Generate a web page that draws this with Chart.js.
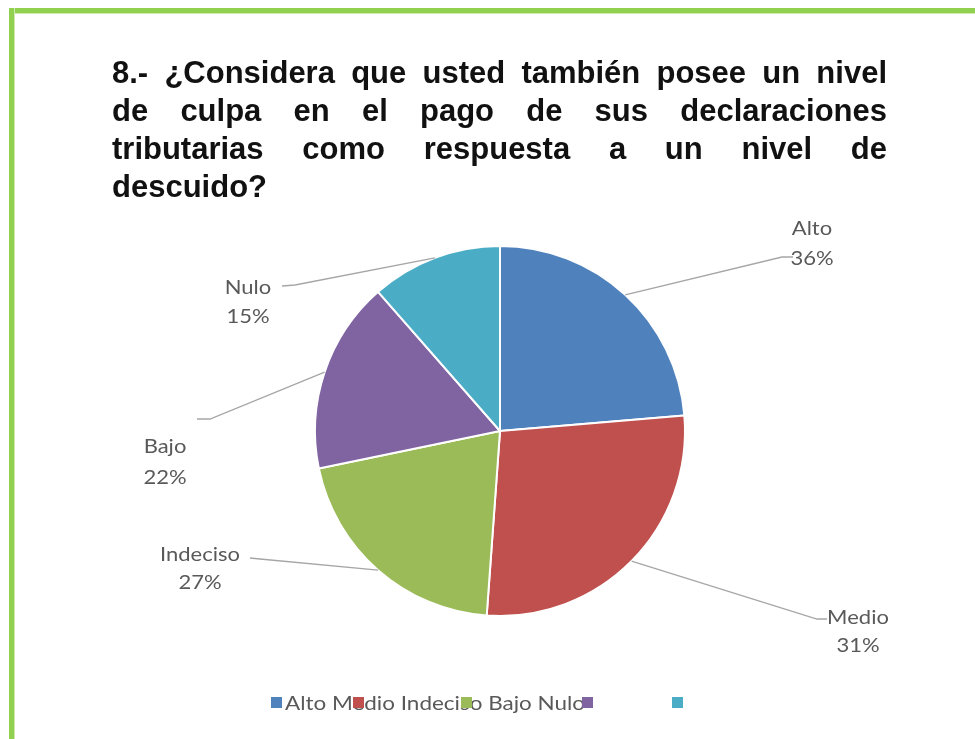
<!DOCTYPE html>
<html lang="es">
<head>
<meta charset="UTF-8">
<title>Nivel de culpa</title>
<style>
    body { margin: 0; background: #fff; }
    #wrap { position: relative; width: 975px; height: 739px; overflow: hidden; background: #fff; }
    #topBar { position: absolute; left: 9px; top: 8px; right: 0; height: 5px; background: #92D050; border-bottom: 1px solid #CFEAB0; }
    #leftBar { position: absolute; left: 9px; top: 8px; width: 5px; bottom: 0; background: #92D050; border-right: 1px solid #CFEAB0; }
    #title { position: absolute; left: 112px; top: 54px; width: 775px; font: bold 31px "Liberation Sans Narrow", "Arial Narrow", "Liberation Sans", sans-serif; font-stretch: condensed; line-height: 38px; color: #111; }
    #title div { text-align: justify; text-align-last: justify; }
    #title div.last { text-align-last: left; }
    canvas { position: absolute; left: 0; top: 0; }
</style>
</head>
<body>
<script src="https://cdn.jsdelivr.net/npm/chart.js@4.4.0/dist/chart.umd.min.js"></script>

<div id="wrap">
    <canvas id="pie" width="975" height="739"></canvas>
    <div id="topBar"></div>
    <div id="leftBar"></div>
    <div id="title">
        <div>8.- ¿Considera que usted también posee un nivel</div>
        <div>de culpa en el pago de sus declaraciones</div>
        <div>tributarias como respuesta a un nivel de</div>
        <div class="last">descuido?</div>
    </div>
</div>

<script>
    const categories = ['Alto', 'Medio', 'Indeciso', 'Bajo', 'Nulo'];
    // slice sizes as drawn in the picture
    const sliceValues = [31, 36, 27, 22, 15];
    // percentages printed on the labels
    const labelPercents = ['36%', '31%', '27%', '22%', '15%'];
    const colors = ['#4F81BD', '#C0504D', '#9BBB59', '#8064A2', '#4BACC6'];

    // label placement, offsets from the pie centre
    const labelPlace = [
        {elbow: [282, -174], end: [293, -174], tx: 312, ty: [-202, -172]},
        {elbow: [317, 188], end: [327, 188], tx: 358, ty: [187, 215]},
        {elbow: [-240, 128], end: [-250, 127], tx: -300, ty: [124, 152]},
        {elbow: [-290, -12], end: [-303, -12], tx: -335, ty: [16, 47]},
        {elbow: [-205, -146], end: [-218, -145], tx: -252, ty: [-143, -114]}
    ];
    const legendMarkX = [271, 353, 461, 582, 672];

    // text a bit wider than Lato, like the stretched original
    function wideText(ctx, txt, x, y, sx) {
        ctx.save();
        ctx.translate(x, y);
        ctx.scale(sx, 1);
        ctx.fillText(txt, 0, 0);
        ctx.restore();
    }

    const labelPlugin = {
        id: 'excelLabels',
        afterDraw(chart) {
            const ctx = chart.ctx;
            const arcs = chart.getDatasetMeta(0).data;
            ctx.save();
            arcs.forEach((arc, i) => {
                const p = labelPlace[i];
                const mid = (arc.startAngle + arc.endAngle) / 2;
                const ex = arc.x + arc.outerRadius * Math.cos(mid);
                const ey = arc.y + arc.outerRadius * Math.sin(mid);
                ctx.strokeStyle = '#a6a6a6';
                ctx.lineWidth = 1.3;
                ctx.beginPath();
                ctx.moveTo(ex, ey);
                ctx.lineTo(arc.x + p.elbow[0], arc.y + p.elbow[1]);
                ctx.lineTo(arc.x + p.end[0], arc.y + p.end[1]);
                ctx.stroke();

                ctx.fillStyle = '#595959';
                ctx.font = '20px Lato, sans-serif';
                ctx.textAlign = 'center';
                ctx.textBaseline = 'middle';
                wideText(ctx, categories[i], arc.x + p.tx, arc.y + p.ty[0], 1.1);
                wideText(ctx, labelPercents[i], arc.x + p.tx, arc.y + p.ty[1], 1.1);
            });

            // squeezed legend row
            ctx.fillStyle = '#595959';
            ctx.font = '20px Lato, sans-serif';
            ctx.textAlign = 'left';
            ctx.textBaseline = 'middle';
            const row = categories.join(' ');
            const sx = 300 / ctx.measureText(row).width;
            wideText(ctx, row, 285, 704, sx);
            colors.forEach((c, i) => {
                ctx.fillStyle = c;
                ctx.fillRect(legendMarkX[i], 697, 11, 11);
            });
            ctx.restore();
        }
    };

    const ctx = document.getElementById('pie').getContext('2d');
    const pieChart = new Chart(ctx, {
        type: 'pie',
        data: {
            labels: categories,
            datasets: [{
                data: sliceValues,
                backgroundColor: colors,
                borderColor: '#ffffff',
                borderWidth: 2,
                hoverOffset: 0
            }]
        },
        options: {
            responsive: false,
            animation: false,
            layout: {
                padding: {left: 314, right: 289, top: 245, bottom: 122}
            },
            plugins: {
                legend: {display: false},
                tooltip: {enabled: false}
            }
        },
        plugins: [labelPlugin]
    });
</script>
</body>
</html>
